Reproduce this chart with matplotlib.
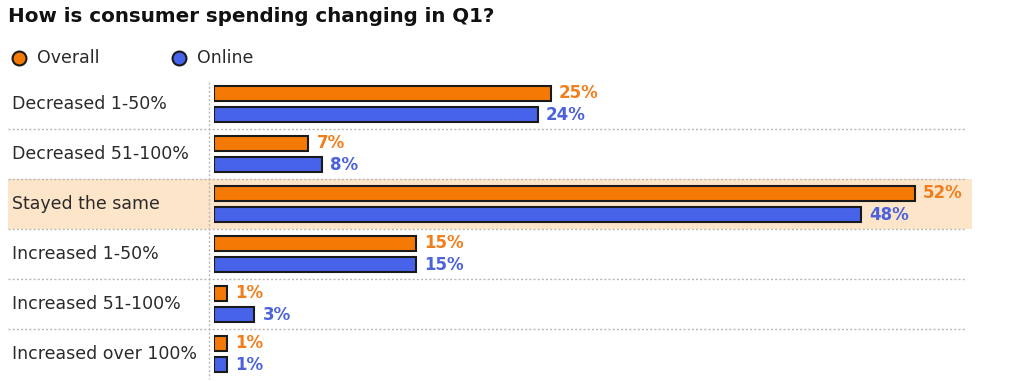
import numpy as np
import matplotlib
matplotlib.use("Agg")
import matplotlib.pyplot as plt
import matplotlib.transforms as mtransforms

categories = ["Decreased 1-50%", "Decreased 51-100%", "Stayed the same",
              "Increased 1-50%", "Increased 51-100%", "Increased over 100%"]
overall = [25, 7, 52, 15, 1, 1]
online = [24, 8, 48, 15, 3, 1]
highlight = "Stayed the same"

orange = "#F57A05"
blue = "#4763EA"
orange_txt = "#F07E1C"
blue_txt = "#4C62DA"
band = "#FDE5C9"

plt.rcParams["font.family"] = ["DejaVu Sans"]

W, H = 1010, 381
fig = plt.figure(figsize=(W / 100, H / 100), dpi=100)

# axes in pixel layout: x from 214px, rows from y=79 to y=379
left, top, bottom = 214, 79, 379
px_per_pct = 13.48
xmax = (W - 14 - left) / px_per_pct
ax = fig.add_axes([left / W, (H - bottom) / H, (W - 14 - left) / W, (bottom - top) / H])
ax.set_xlim(0, xmax)
ax.set_ylim(len(categories) - 0.5, -0.5)
ax.axis("off")

y = np.arange(len(categories))
bh = 0.3
off = 0.21

# figure-x / data-y blend for things that live outside the bar area
blend = mtransforms.blended_transform_factory(fig.transFigure, ax.transData)

for i, c in enumerate(categories):
    if c == highlight:
        ax.fill_between([8 / W, 972 / W], i - 0.5, i + 0.5, color=band,
                        transform=blend, clip_on=False, zorder=0, lw=0)
    ax.text(12 / W, i, c, transform=blend, ha="left", va="center",
            fontsize=12.5, color="#2a2a2a")

for i in range(len(categories) - 1):
    ax.plot([8 / W, 965 / W], [i + 0.5, i + 0.5], transform=blend,
            color="#b8b8b8", lw=1, ls=(0, (1.5, 1.5)), clip_on=False, zorder=1)

ax.plot([209 / W, 209 / W], [-0.45, len(categories) - 0.5], transform=blend,
        color="#b8b8b8", lw=1, ls=(0, (1.5, 1.5)), clip_on=False, zorder=1)

ax.barh(y - off, overall, height=bh, color=orange, edgecolor="#1a1a1a", lw=1.5, zorder=3)
ax.barh(y + off, online, height=bh, color=blue, edgecolor="#1a1a1a", lw=1.5, zorder=3)

for i in range(len(categories)):
    ax.text(overall[i] + 0.6, y[i] - off, f"{overall[i]}%", ha="left", va="center",
            fontsize=12, fontweight="bold", color=orange_txt)
    ax.text(online[i] + 0.6, y[i] + off, f"{online[i]}%", ha="left", va="center",
            fontsize=12, fontweight="bold", color=blue_txt)

fig.text(8 / W, 1 - 17 / H, "How is consumer spending changing in Q1?", ha="left",
         va="center", fontsize=14.3, fontweight="bold", color="#111111")

# legend
ly = 1 - 58 / H
fig.lines.append(plt.Line2D([19 / W], [ly], marker="o", ms=10, color=orange,
                            mec="#1a1a1a", mew=1.5, transform=fig.transFigure))
fig.text(37 / W, ly, "Overall", ha="left", va="center", fontsize=12.5, color="#2a2a2a")
fig.lines.append(plt.Line2D([179 / W], [ly], marker="o", ms=10, color=blue,
                            mec="#1a1a1a", mew=1.5, transform=fig.transFigure))
fig.text(197 / W, ly, "Online", ha="left", va="center", fontsize=12.5, color="#2a2a2a")

fig.savefig("out.png", dpi=100)
